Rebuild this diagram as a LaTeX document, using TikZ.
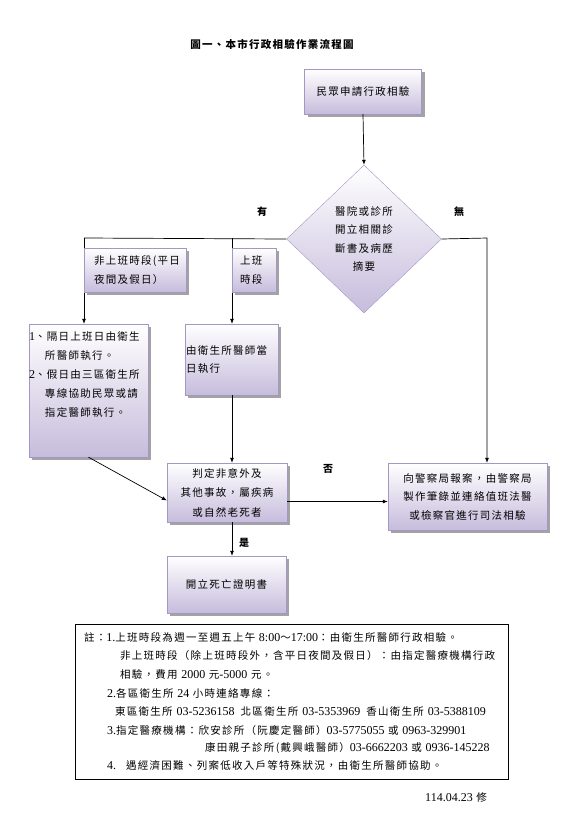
\documentclass[tikz,border=0pt]{standalone}
\usepackage{fontspec}
\setmainfont{Noto Sans CJK TC}[LetterSpace=12]
\newfontfamily\latfont{Liberation Serif}
\newcommand{\en}[1]{{\latfont\fontsize{12}{12}\selectfont #1}}
\usetikzlibrary{arrows.meta,positioning,shapes.geometric,shadows}
\definecolor{boxline}{RGB}{165,150,195}
\definecolor{lilac}{RGB}{198,188,220}

\begin{document}
\begin{tikzpicture}[x=1pt,y=-1pt,>={Latex[length=5pt,width=4pt]},font=\fontsize{10.5}{18.5}\selectfont]
  \tikzstyle{box}=[draw=boxline,top color=white,bottom color=lilac,drop shadow={shadow xshift=3pt,shadow yshift=-3pt,fill=black!45,opacity=.8},inner sep=0pt]
  \tikzstyle{line}=[line width=0.7pt]
  \tikzstyle{noteline}=[anchor=west,inner sep=0pt]
  \useasboundingbox (0,0) rectangle (579,823);
  \node[font=\fontsize{10.5}{12}\selectfont\bfseries] (title) at (272,44) {圖一、本市行政相驗作業流程圖};
  \node[box,minimum width=117pt,minimum height=45pt] (apply) at (363,91.5) {民眾申請行政相驗};
  \node[diamond,draw=boxline,top color=white,bottom color=lilac,minimum width=155pt,minimum height=148pt,inner sep=0pt,align=center] (dg) at (364,239) {醫院或診所\\開立相關診\\斷書及病歷\\摘要};
  \node[box,minimum width=119pt,minimum height=133pt,font=\fontsize{10.5}{19}\selectfont] (b1) at (88.5,390.5) {\parbox[c][133pt][t]{119pt}{\vspace*{8pt}\en{1}、隔日上班日由衛生\\\hspace*{16pt}所醫師執行。\\\en{2}、假日由三區衛生所\\\hspace*{16pt}專線協助民眾或請\\\hspace*{16pt}指定醫師執行。}};
  \node[box,minimum width=93pt,minimum height=71pt,text width=91pt,inner xsep=1pt,align=left] (b2) at (231.5,359.5) {由衛生所醫師當\\日執行};
  \node[box,minimum width=120pt,minimum height=59pt,align=center,font=\fontsize{10.5}{19.5}\selectfont] (judge) at (227,492.5) {判定非意外及\\其他事故，屬疾病\\或自然老死者};
  \node[box,minimum width=159pt,minimum height=67pt,align=center] (police) at (467.5,496.5) {向警察局報案，由警察局\\製作筆錄並連絡值班法醫\\或檢察官進行司法相驗};
  \node[box,minimum width=119pt,minimum height=57pt] (cert) at (226.5,584.5) {開立死亡證明書};

  % branch points on the line out of the diamond
  \coordinate (nl) at (84,238);
  \coordinate (wl) at (232,238);
  \coordinate (yl) at (487,238);

  \draw[line,->] (apply.south) -- (dg.north);
  \draw[line] (dg.west) -- (nl);
  \draw[line,->] (nl) -- (nl |- b1.north);
  \draw[line,->] (wl) -- (wl |- b2.north);
  \draw[line,->] (dg.east) -- (yl) -- (yl |- police.north);
  \draw[line,->] (wl |- b2.south) -- (wl |- judge.north);
  \draw[line,->] (b1.south) -- ([yshift=-8pt]judge.west);
  \draw[line,->] ([yshift=-9pt]judge.east) -- ([yshift=-9pt]judge.east -| police.west);
  \draw[line,->] (wl |- judge.south) -- (wl |- cert.north);

  \node[box,minimum width=102pt,minimum height=44pt,text width=82pt,inner xsep=10pt,align=left] (off) at (135,270) {非上班時段(平日\\夜間及假日）};
  \node[box,minimum width=44pt,minimum height=44pt,text width=28pt,inner xsep=8pt,align=left] (on) at (254,270) {上班\\時段};

  \node[font=\bfseries] (yes) at (262,212) {有};
  \node[font=\bfseries] (no) at (459,212) {無};
  \node[font=\bfseries] (neg) at (328,469) {否};
  \node[font=\bfseries] (pos) at (244,543) {是};

  % notes
  \node[draw,line width=0.8pt,minimum width=433pt,minimum height=155pt,inner sep=0pt] (notes) at (291.5,701.5) {};
  \node[noteline] (n1) at (84,637) {註：\en{1.}上班時段為週一至週五上午 \en{8:00}～\en{17:00}：由衛生所醫師行政相驗。};
  \node[noteline] (n2) at (120,656) {非上班時段（除上班時段外，含平日夜間及假日）：由指定醫療機構行政};
  \node[noteline] (n3) at (120,674) {相驗，費用 \en{2000} 元\en{-5000} 元。};
  \node[noteline] (n4) at (107,693) {\en{2.}各區衛生所 \en{24} 小時連絡專線：};
  \node[noteline] (n5) at (115,712) {東區衛生所\hspace{4pt}\en{03-5236158}\hspace{6pt}北區衛生所\hspace{4pt}\en{03-5353969}\hspace{6pt}香山衛生所\hspace{4pt}\en{03-5388109}};
  \node[noteline] (n6) at (107,730) {\en{3.}指定醫療機構：欣安診所（阮慶定醫師）\en{03-5775055} 或 \en{0963-329901}};
  \node[noteline] (n7) at (205,748) {康田親子診所(戴興峨醫師）\en{03-6662203} 或 \en{0936-145228}};
  \node[noteline] (n8) at (107,765) {\en{4.}\hspace{10pt}遇經濟困難、列案低收入戶等特殊狀況，由衛生所醫師協助。};

  \node[anchor=west,inner sep=0pt] (rev) at (425,797) {\en{114.04.23} 修};
\end{tikzpicture}
\end{document}
